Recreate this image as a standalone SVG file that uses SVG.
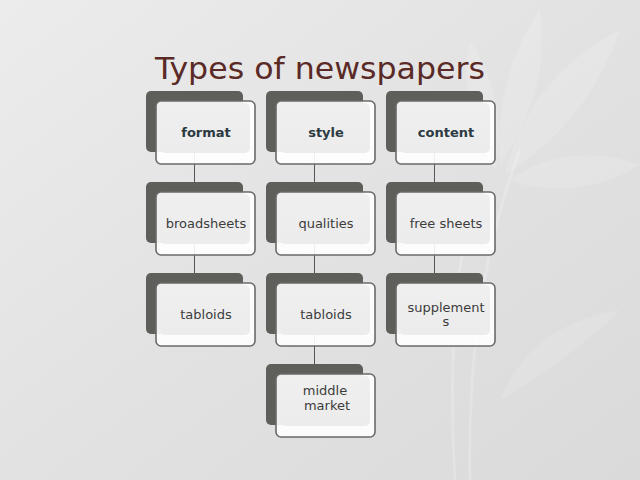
<svg xmlns="http://www.w3.org/2000/svg" width="640" height="480" viewBox="0 0 640 480">
  <defs>
    <linearGradient id="bg" x1="0" y1="0" x2="1" y2="1">
      <stop offset="0" stop-color="#ececec"/>
      <stop offset="0.5" stop-color="#e2e2e2"/>
      <stop offset="1" stop-color="#dadada"/>
    </linearGradient>
    <linearGradient id="inner" x1="0" y1="0" x2="0" y2="1">
      <stop offset="0" stop-color="#efefef"/>
      <stop offset="1" stop-color="#ececec"/>
    </linearGradient>
    <style>
      .back { fill: #5e5e5a; }
      .front { fill: #ffffff; fill-opacity: 0.9; stroke: #6a6a68; stroke-width: 1.6; }
      .inner { fill: url(#inner); }
      .lbl { font-family: "DejaVu Sans", "Liberation Sans", sans-serif; font-size: 13px; fill: #3c3c3c; text-anchor: middle; }
      .hdr { font-weight: bold; fill: #2c3a42; }
      .conn line { stroke: #555555; stroke-width: 1; }
      .leaf { fill: #ffffff; fill-opacity: 0.14; }
      .stem { fill: none; stroke: #ffffff; stroke-opacity: 0.2; stroke-width: 3; }
    </style>
  </defs>
  <rect x="0" y="0" width="640" height="480" fill="url(#bg)"/>
  <g id="background-plant">
    <path class="stem" d="M470 480 C468 380 478 260 520 150"/>
    <path class="stem" d="M455 480 C450 400 452 300 465 240"/>
    <path class="leaf" d="M505 175 C520 110 560 60 620 30 C600 90 560 140 505 175 Z"/>
    <path class="leaf" d="M500 165 C495 110 510 50 540 10 C548 70 530 120 500 165 Z"/>
    <path class="leaf" d="M510 180 C550 150 600 150 640 165 C600 190 550 195 510 180 Z"/>
    <path class="leaf" d="M495 170 C470 120 460 80 470 40 C495 80 505 120 495 170 Z"/>
    <path class="leaf" d="M500 400 C520 350 560 320 620 310 C590 340 550 370 500 400 Z"/>
  </g>
  <text x="320" y="79" font-family="DejaVu Sans, Liberation Sans, sans-serif" font-size="30" fill="#5a2a26" text-anchor="middle" textLength="330" lengthAdjust="spacingAndGlyphs">Types of newspapers</text>
  <g id="connectors" class="conn">
    <line x1="194.5" y1="150" x2="194.5" y2="183"/>
    <line x1="194.5" y1="241" x2="194.5" y2="274"/>
    <line x1="314.5" y1="150" x2="314.5" y2="183"/>
    <line x1="314.5" y1="241" x2="314.5" y2="274"/>
    <line x1="314.5" y1="332" x2="314.5" y2="365"/>
    <line x1="434.5" y1="150" x2="434.5" y2="183"/>
    <line x1="434.5" y1="241" x2="434.5" y2="274"/>
  </g>
  <g id="node-format">
    <rect class="back" x="146" y="91" width="97" height="61" rx="5"/>
    <rect class="front" x="156" y="101" width="99" height="63" rx="5"/>
    <rect class="inner" x="160" y="103" width="90" height="50" rx="5"/>
    <text class="lbl hdr" x="206" y="137">format</text>
  </g>
  <g id="node-style">
    <rect class="back" x="266" y="91" width="97" height="61" rx="5"/>
    <rect class="front" x="276" y="101" width="99" height="63" rx="5"/>
    <rect class="inner" x="280" y="103" width="90" height="50" rx="5"/>
    <text class="lbl hdr" x="326" y="137">style</text>
  </g>
  <g id="node-content">
    <rect class="back" x="386" y="91" width="97" height="61" rx="5"/>
    <rect class="front" x="396" y="101" width="99" height="63" rx="5"/>
    <rect class="inner" x="400" y="103" width="90" height="50" rx="5"/>
    <text class="lbl hdr" x="446" y="137">content</text>
  </g>
  <g id="node-broadsheets">
    <rect class="back" x="146" y="182" width="97" height="61" rx="5"/>
    <rect class="front" x="156" y="192" width="99" height="63" rx="5"/>
    <rect class="inner" x="160" y="194" width="90" height="50" rx="5"/>
    <text class="lbl" x="206" y="228">broadsheets</text>
  </g>
  <g id="node-qualities">
    <rect class="back" x="266" y="182" width="97" height="61" rx="5"/>
    <rect class="front" x="276" y="192" width="99" height="63" rx="5"/>
    <rect class="inner" x="280" y="194" width="90" height="50" rx="5"/>
    <text class="lbl" x="326" y="228">qualities</text>
  </g>
  <g id="node-free-sheets">
    <rect class="back" x="386" y="182" width="97" height="61" rx="5"/>
    <rect class="front" x="396" y="192" width="99" height="63" rx="5"/>
    <rect class="inner" x="400" y="194" width="90" height="50" rx="5"/>
    <text class="lbl" x="446" y="228">free sheets</text>
  </g>
  <g id="node-tabloids-1">
    <rect class="back" x="146" y="273" width="97" height="61" rx="5"/>
    <rect class="front" x="156" y="283" width="99" height="63" rx="5"/>
    <rect class="inner" x="160" y="285" width="90" height="50" rx="5"/>
    <text class="lbl" x="206" y="319">tabloids</text>
  </g>
  <g id="node-tabloids-2">
    <rect class="back" x="266" y="273" width="97" height="61" rx="5"/>
    <rect class="front" x="276" y="283" width="99" height="63" rx="5"/>
    <rect class="inner" x="280" y="285" width="90" height="50" rx="5"/>
    <text class="lbl" x="326" y="319">tabloids</text>
  </g>
  <g id="node-supplements">
    <rect class="back" x="386" y="273" width="97" height="61" rx="5"/>
    <rect class="front" x="396" y="283" width="99" height="63" rx="5"/>
    <rect class="inner" x="400" y="285" width="90" height="50" rx="5"/>
    <text class="lbl" x="446" y="312">supplement</text>
    <text class="lbl" x="446" y="326">s</text>
  </g>
  <g id="node-middle-market">
    <rect class="back" x="266" y="364" width="97" height="61" rx="5"/>
    <rect class="front" x="276" y="374" width="99" height="63" rx="5"/>
    <rect class="inner" x="280" y="376" width="90" height="50" rx="5"/>
    <text class="lbl" x="325" y="395">middle</text>
    <text class="lbl" x="327" y="410">market</text>
  </g>
</svg>
